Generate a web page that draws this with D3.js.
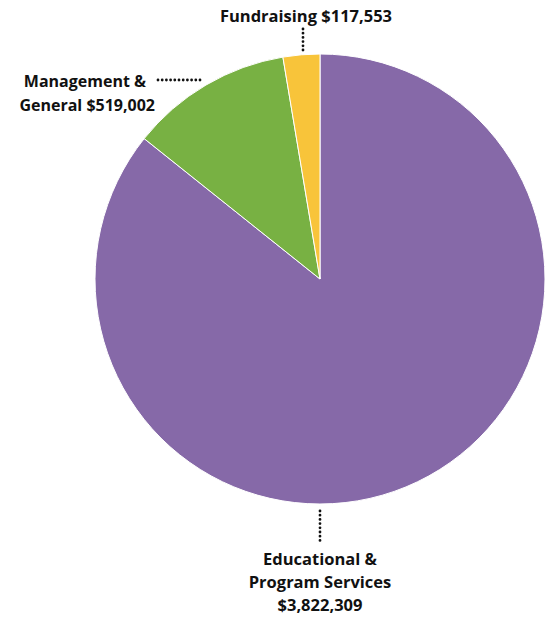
<!DOCTYPE html>
<html>
<head>
<meta charset="utf-8">
<script src="https://cdn.jsdelivr.net/npm/d3@7"></script>
<style>
  html, body { margin: 0; padding: 0; background: #fff; }
  svg text { font-family: "Open Sans", "Lato", sans-serif; font-weight: 700; fill: #111; }
</style>
</head>
<body>
<svg id="chart" width="548" height="618"></svg>
<script>
// Expense categories and amounts (USD)
const categories = ["Educational & Program Services", "Management & General", "Fundraising"];
const values = [3822309, 519002, 117553];
const colors = ["#8669A8", "#78B143", "#F8C43A"];

const svg = d3.select("#chart");
const cx = 320, cy = 279, radius = 225;

const pie = d3.pie().sort(null).value(d => d.value);
const arc = d3.arc().innerRadius(0).outerRadius(radius);
const data = categories.map((c, i) => ({ name: c, value: values[i], color: colors[i] }));

const g = svg.append("g").attr("transform", `translate(${cx},${cy})`);
g.selectAll("path")
  .data(pie(data))
  .join("path")
  .attr("d", arc)
  .attr("fill", d => d.data.color)
  .attr("stroke", "#fff")
  .attr("stroke-width", 1);

const fmt = d3.format("$,");

// Dotted leader lines
function leader(x1, y1, x2, y2) {
  svg.append("line")
    .attr("x1", x1).attr("y1", y1).attr("x2", x2).attr("y2", y2)
    .attr("stroke", "#111").attr("stroke-width", 2.8)
    .attr("stroke-linecap", "round")
    .attr("stroke-dasharray", "0 4.2");
}
leader(303, 29, 303, 50);
leader(158, 80, 200, 80);
leader(320, 511, 320, 541);

// Fundraising label
svg.append("text")
  .attr("x", 306).attr("y", 22).attr("text-anchor", "middle")
  .attr("font-size", 16.5)
  .text(`${categories[2]} ${fmt(values[2])}`);

// Management & General label
const mg = svg.append("text").attr("text-anchor", "end").attr("font-size", 16);
mg.append("tspan").attr("x", 146).attr("y", 87).text("Management &");
mg.append("tspan").attr("x", 155).attr("y", 111).text(`General ${fmt(values[1])}`);

// Educational & Program Services label
const ep = svg.append("text").attr("text-anchor", "middle").attr("font-size", 16.5);
ep.append("tspan").attr("x", 320).attr("y", 565).text("Educational &");
ep.append("tspan").attr("x", 320).attr("y", 588).text("Program Services");
ep.append("tspan").attr("x", 320).attr("y", 611).text(fmt(values[0]));
</script>
</body>
</html>
